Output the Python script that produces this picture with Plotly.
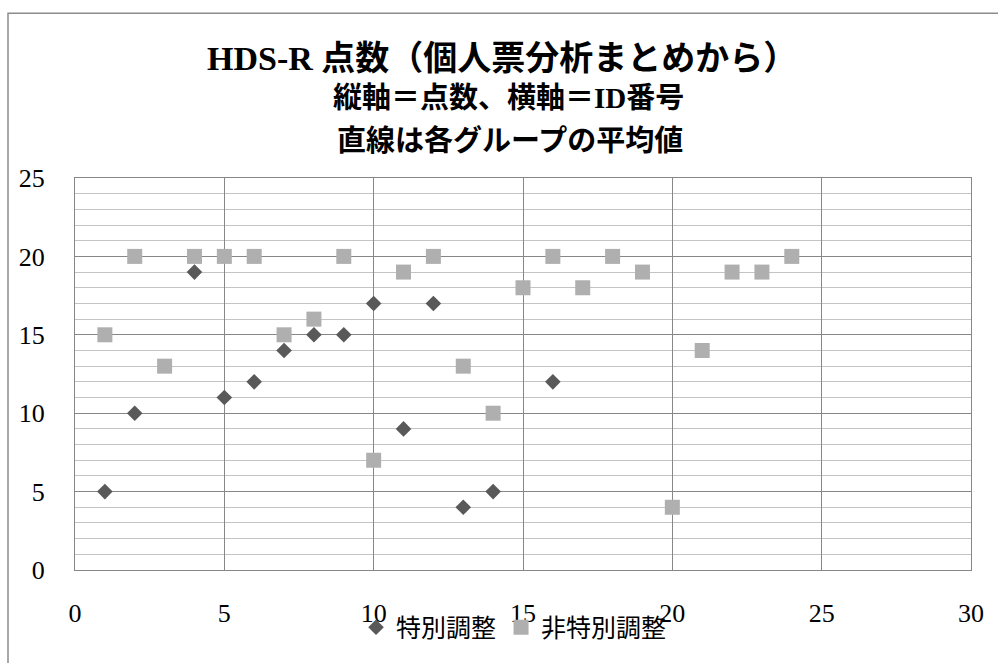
import plotly.graph_objects as go

# HDS-R scores by ID number, split by group
special_ids = [1, 2, 4, 5, 6, 7, 8, 9, 10, 11, 12, 13, 14, 16]
special_scores = [5, 10, 19, 11, 12, 14, 15, 15, 17, 9, 17, 4, 5, 12]

normal_ids = [1, 2, 3, 4, 5, 6, 7, 8, 9, 10, 11, 12, 13, 14, 15, 16, 17, 18, 19, 20, 21, 22, 23, 24]
normal_scores = [15, 20, 13, 20, 20, 20, 15, 16, 20, 7, 19, 20, 13, 10, 18, 20, 18, 20, 19, 4, 14, 19, 19, 20]

x_ticks = [0, 5, 10, 15, 20, 25, 30]
y_ticks = [0, 5, 10, 15, 20, 25]

SERIF = "Liberation Serif, 'Noto Sans CJK JP', serif"
W, H = 998, 663
L, R, T, B = 75, 27, 178, 90
PW, PH = W - L - R, H - T - B


def px_x(px):
    return (px - L) / PW


def px_y(py):
    return (H - B - py) / PH


fig = go.Figure()
fig.add_trace(go.Scatter(
    x=special_ids, y=special_scores, mode="markers", name="特別調整",
    marker=dict(symbol="diamond", size=12, color="#595959"),
))
fig.add_trace(go.Scatter(
    x=normal_ids, y=normal_scores, mode="markers", name="非特別調整",
    marker=dict(symbol="square", size=15, color="#afafaf"),
))

fig.update_layout(
    width=W, height=H,
    margin=dict(l=L, r=R, t=T, b=B),
    paper_bgcolor="white", plot_bgcolor="white",
    font=dict(family=SERIF, size=25, color="#000000"),
    showlegend=True,
    legend=dict(
        orientation="h", x=0.49, xanchor="center", y=px_y(631), yanchor="middle",
        font=dict(family=SERIF, size=25, color="#000000"),
        bgcolor="rgba(0,0,0,0)", itemwidth=30, tracegroupgap=0,
    ),
    xaxis=dict(
        range=[0, 30], tickvals=x_ticks, ticktext=[str(v) for v in x_ticks],
        showgrid=True, gridcolor="#878787", gridwidth=1,
        showline=True, linecolor="#878787", linewidth=1, mirror=True,
        zeroline=False, ticks="", ticklabelstandoff=20,
        tickfont=dict(family=SERIF, size=26),
    ),
    yaxis=dict(
        range=[0, 25], tickvals=y_ticks, ticktext=[str(v) for v in y_ticks],
        showgrid=True, gridcolor="#878787", gridwidth=1,
        minor=dict(dtick=1, showgrid=True, gridcolor="#c4c4c4", gridwidth=1.3),
        showline=True, linecolor="#878787", linewidth=1, mirror=True,
        zeroline=False, ticks="", ticklabelstandoff=24,
        tickfont=dict(family=SERIF, size=26),
    ),
)

# Title block
fig.add_annotation(text="<b>HDS-R 点数（個人票分析まとめから）</b>", xref="paper", yref="paper",
                   x=px_x(502), y=px_y(58), xanchor="center", yanchor="middle",
                   showarrow=False, font=dict(family=SERIF, size=34, color="#000000"))
fig.add_annotation(text="<b>縦軸＝点数、横軸＝ID番号</b>", xref="paper", yref="paper",
                   x=px_x(508), y=px_y(97), xanchor="center", yanchor="middle",
                   showarrow=False, font=dict(family=SERIF, size=29, color="#000000"))
fig.add_annotation(text="<b>直線は各グループの平均値</b>", xref="paper", yref="paper",
                   x=px_x(510), y=px_y(141), xanchor="center", yanchor="middle",
                   showarrow=False, font=dict(family=SERIF, size=29, color="#000000"))

# Outer chart frame
fig.add_shape(type="rect", xref="paper", yref="paper",
              x0=px_x(8), y0=px_y(670), x1=px_x(1005), y1=px_y(12),
              line=dict(color="#8c8c8c", width=1.5), fillcolor="rgba(0,0,0,0)", layer="below")

fig.write_html("out.html")
